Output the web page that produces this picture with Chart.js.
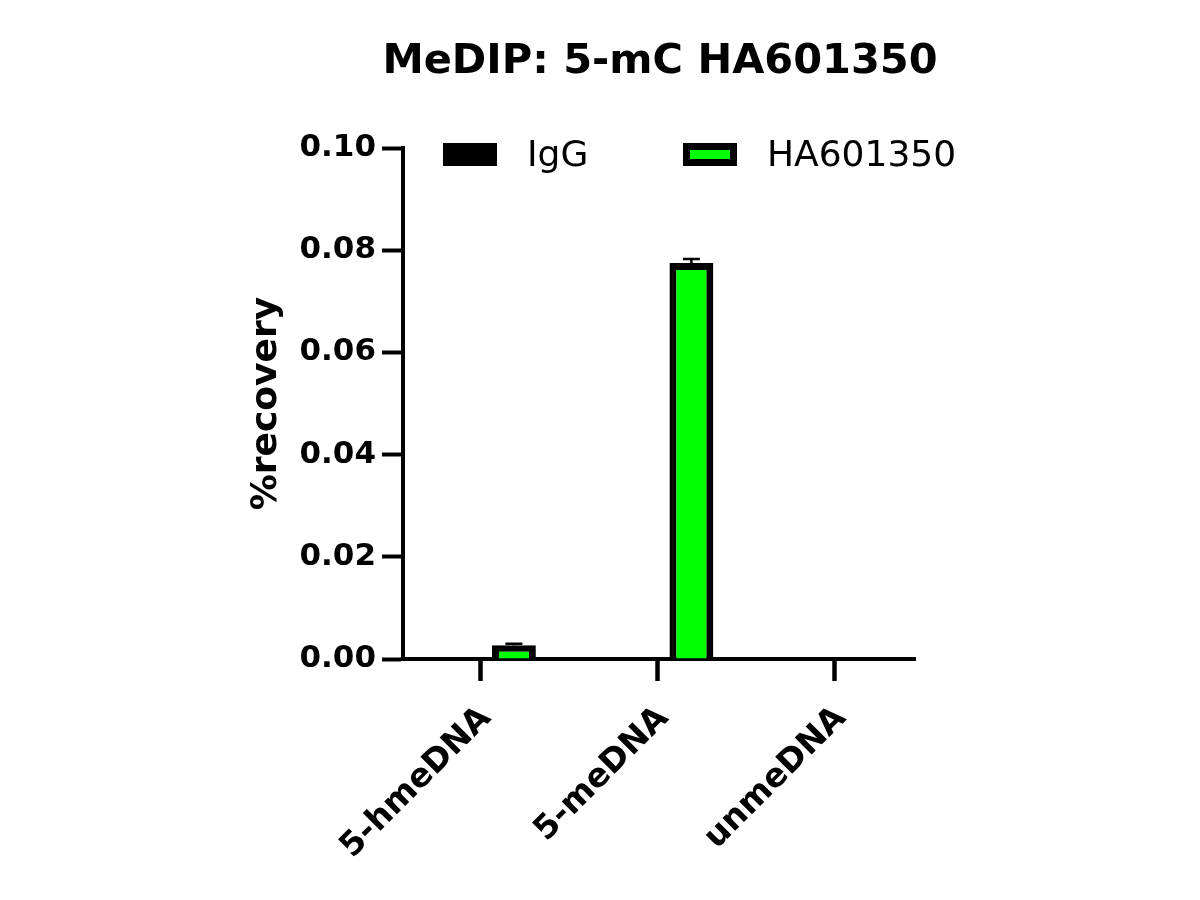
<!DOCTYPE html>
<html>
<head>
<meta charset="utf-8">
<title>MeDIP: 5-mC HA601350</title>
<script src="https://cdn.jsdelivr.net/npm/chart.js@4.4.0/dist/chart.umd.min.js"></script>
<style>
  html, body { margin: 0; padding: 0; background: #fff; }
  #box { width: 1200px; height: 900px; }
</style>
</head>
<body>
<div id="box"><canvas id="medip" width="1200" height="900"></canvas></div>
<script>
var chartTitle = "MeDIP: 5-mC HA601350";
var samples = ["5-hmeDNA", "5-meDNA", "unmeDNA"];
var seriesNames = ["IgG", "HA601350"];
var iggValues = [0, 0, 0];
var iggErrors = [0, 0, 0];
var haValues = [0.0027, 0.0775, 0];
var haErrors = [0.0003, 0.0008, 0];
var yTicks = [0, 0.02, 0.04, 0.06, 0.08, 0.10];
var yTitle = "%recovery";

var fontFam = '"DejaVu Sans", sans-serif';

function points(vals) {
    return vals.map(function (v, i) { return { x: i, y: v }; });
}

// error bars, upper half only (like prism)
var errorBars = {
    id: 'errorBars',
    afterDatasetsDraw: function (chart) {
        var ctx = chart.ctx;
        var ys = chart.scales.y;
        chart.data.datasets.forEach(function (ds, di) {
            if (!ds.errors) return;
            var meta = chart.getDatasetMeta(di);
            meta.data.forEach(function (bar, i) {
                var err = ds.errors[i];
                if (!err) return;
                var top = ys.getPixelForValue(ds.data[i].y + err);
                ctx.save();
                ctx.strokeStyle = '#000';
                ctx.lineWidth = 2.5;
                ctx.beginPath();
                ctx.moveTo(bar.x, bar.y);
                ctx.lineTo(bar.x, top);
                ctx.moveTo(bar.x - 8.5, top);
                ctx.lineTo(bar.x + 8.5, top);
                ctx.stroke();
                ctx.restore();
            });
        });
    }
};

// title + legend inside plot (drawn by hand so they can sit where prism put them)
var decor = {
    id: 'decor',
    afterDraw: function (chart) {
        var ctx = chart.ctx;
        var area = chart.chartArea;
        ctx.save();
        ctx.fillStyle = '#000';
        ctx.font = 'bold 41.5px ' + fontFam;
        ctx.textAlign = 'center';
        ctx.textBaseline = 'alphabetic';
        ctx.fillText(chartTitle, (area.left + area.right) / 2 + 1, 73);

        var starts = [area.left + 40, area.left + 280];
        ctx.font = '36px ' + fontFam;
        ctx.textAlign = 'left';
        chart.data.datasets.forEach(function (ds, i) {
            var bx = starts[i], by = 143, bw = 54, bh = 23, b = 7;
            ctx.fillStyle = ds.borderColor;
            ctx.fillRect(bx, by, bw, bh);
            ctx.fillStyle = ds.backgroundColor;
            ctx.fillRect(bx + b, by + b, bw - 2 * b, bh - 2 * b);
            ctx.fillStyle = '#000';
            ctx.fillText(ds.label, bx + bw + 30, 166);
        });
        ctx.restore();
    }
};

var chart = new Chart(document.getElementById('medip'), {
    type: 'bar',
    data: {
        datasets: [{
            label: seriesNames[0],
            data: points(iggValues),
            errors: iggErrors,
            backgroundColor: '#000000',
            borderColor: '#000000',
            borderWidth: 7,
            categoryPercentage: 0.764,
            barPercentage: 0.647
        }, {
            label: seriesNames[1],
            data: points(haValues),
            errors: haErrors,
            backgroundColor: '#00ff00',
            borderColor: '#000000',
            borderWidth: 7,
            categoryPercentage: 0.764,
            barPercentage: 0.647
        }]
    },
    options: {
        responsive: false,
        animation: false,
        layout: { padding: { left: 241, right: 285, top: 148, bottom: 0 } },
        plugins: {
            legend: { display: false },
            title: { display: false },
            tooltip: { enabled: false }
        },
        scales: {
            x: {
                type: 'linear',
                min: -0.434,
                max: 2.451,
                offset: false,
                afterBuildTicks: function (s) {
                    s.ticks = samples.map(function (c, i) { return { value: i }; });
                },
                afterFit: function (s) {
                    s.height = 241;
                },
                ticks: {
                    minRotation: 45,
                    maxRotation: 45,
                    padding: 18,
                    labelOffset: 6,
                    color: '#000',
                    font: { family: fontFam, weight: 'bold', size: 33 },
                    callback: function (v) { return samples[v]; }
                },
                grid: {
                    offset: false,
                    drawOnChartArea: false,
                    drawTicks: true,
                    tickLength: 22,
                    tickWidth: 4.5,
                    tickColor: '#000'
                },
                border: { color: '#000', width: 4 }
            },
            y: {
                min: 0,
                max: 0.1,
                afterBuildTicks: function (s) {
                    s.ticks = yTicks.map(function (v) { return { value: v }; });
                },
                afterFit: function (s) {
                    s.width = 162;
                    s.paddingTop = 0;
                    s.paddingBottom = 0;
                },
                ticks: {
                    padding: 6,
                    color: '#000',
                    font: { family: fontFam, weight: 'bold', size: 31 },
                    callback: function (v) { return v.toFixed(2); }
                },
                grid: {
                    drawOnChartArea: false,
                    drawTicks: true,
                    tickLength: 21,
                    tickWidth: 4,
                    tickColor: '#000'
                },
                border: { color: '#000', width: 4 },
                title: {
                    display: true,
                    text: yTitle,
                    color: '#000',
                    font: { family: fontFam, weight: 'bold', size: 36 }
                }
            }
        }
    },
    plugins: [errorBars, decor]
});
</script>
</body>
</html>
